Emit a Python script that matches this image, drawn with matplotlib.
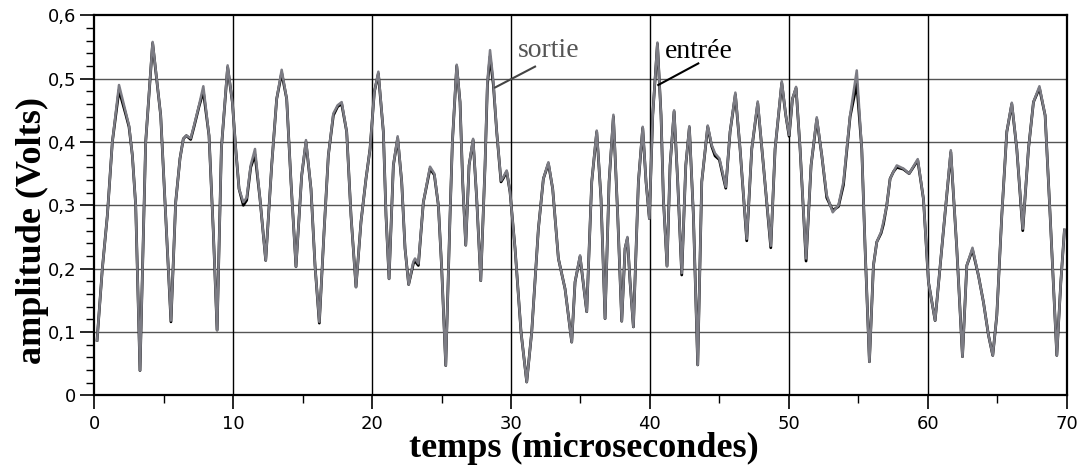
import numpy as np
import matplotlib
matplotlib.use('Agg')
import matplotlib.pyplot as plt
from matplotlib.ticker import MultipleLocator, FixedLocator

# --- Données ---
temps = [0.2, 0.58, 0.94, 1.3, 1.78, 2.26, 2.5, 2.74, 2.98, 3.29,
         3.7, 4.2, 4.78, 5.14, 5.52, 5.86, 6.17, 6.41, 6.63, 6.94,
         7.18, 7.54, 7.85, 8.26, 8.57, 8.84, 9.15, 9.6, 9.94, 10.18,
         10.42, 10.73, 10.97, 11.26, 11.57, 11.93, 12.34, 12.77, 13.13, 13.49,
         13.85, 14.16, 14.52, 14.93, 15.24, 15.6, 15.89, 16.2, 16.54, 16.85,
         17.21, 17.52, 17.81, 18.17, 18.48, 18.84, 19.2, 19.56, 19.85, 20.16,
         20.45, 20.81, 21.0, 21.22, 21.53, 21.84, 22.13, 22.37, 22.63, 22.97,
         23.09, 23.33, 23.69, 24.17, 24.48, 24.77, 25.01, 25.3, 25.61, 25.78,
         26.09, 26.33, 26.52, 26.74, 26.98, 27.27, 27.53, 27.82, 28.13, 28.3,
         28.49, 28.73, 28.97, 29.28, 29.45, 29.69, 29.93, 30.29, 30.72, 31.13,
         31.49, 31.97, 32.33, 32.69, 33.0, 33.41, 33.89, 34.37, 34.61, 34.97,
         35.45, 35.81, 36.17, 36.48, 36.77, 37.06, 37.37, 37.68, 37.97, 38.21,
         38.38, 38.57, 38.81, 39.17, 39.48, 39.72, 39.96, 40.2, 40.54, 40.8,
         40.97, 41.23, 41.45, 41.74, 42.0, 42.29, 42.58, 42.84, 43.13, 43.44,
         43.73, 44.16, 44.45, 44.69, 45.0, 45.22, 45.46, 45.77, 46.15, 46.49,
         46.97, 47.33, 47.76, 48.17, 48.7, 49.01, 49.49, 49.78, 50.02, 50.26,
         50.52, 50.81, 51.24, 51.6, 52.01, 52.37, 52.73, 53.16, 53.57, 53.93,
         54.41, 54.89, 55.25, 55.49, 55.8, 56.09, 56.33, 56.64, 56.81, 57.05,
         57.29, 57.53, 57.77, 58.25, 58.66, 59.28, 59.69, 60.05, 60.53, 61.01,
         61.66, 62.09, 62.5, 62.81, 63.22, 63.65, 64.01, 64.37, 64.68, 64.97,
         65.33, 65.69, 66.05, 66.41, 66.84, 67.25, 67.61, 68.04, 68.45, 68.81,
         69.29, 69.58, 69.84]

sortie = [0.087, 0.2, 0.284, 0.4, 0.49, 0.447, 0.426, 0.379, 0.3, 0.039,
          0.4, 0.558, 0.442, 0.284, 0.118, 0.305, 0.374, 0.405, 0.41, 0.406,
          0.426, 0.458, 0.488, 0.41, 0.258, 0.103, 0.39, 0.521, 0.463, 0.39,
          0.326, 0.305, 0.312, 0.363, 0.389, 0.31, 0.213, 0.363, 0.468, 0.514,
          0.468, 0.337, 0.203, 0.347, 0.403, 0.326, 0.205, 0.116, 0.258, 0.379,
          0.445, 0.458, 0.463, 0.416, 0.284, 0.171, 0.274, 0.342, 0.389, 0.479,
          0.511, 0.416, 0.284, 0.184, 0.363, 0.409, 0.337, 0.232, 0.175, 0.211,
          0.216, 0.208, 0.305, 0.361, 0.35, 0.3, 0.2, 0.047, 0.284, 0.4,
          0.522, 0.463, 0.337, 0.237, 0.363, 0.405, 0.31, 0.181, 0.363, 0.495,
          0.545, 0.495, 0.416, 0.339, 0.345, 0.355, 0.321, 0.232, 0.1, 0.021,
          0.1, 0.263, 0.342, 0.368, 0.326, 0.216, 0.168, 0.084, 0.179, 0.221,
          0.132, 0.337, 0.418, 0.31, 0.121, 0.337, 0.443, 0.284, 0.117, 0.232,
          0.25, 0.179, 0.108, 0.337, 0.424, 0.337, 0.279, 0.442, 0.557, 0.442,
          0.31, 0.204, 0.363, 0.45, 0.337, 0.193, 0.363, 0.425, 0.284, 0.048,
          0.337, 0.426, 0.395, 0.382, 0.374, 0.353, 0.329, 0.416, 0.478, 0.389,
          0.247, 0.389, 0.464, 0.363, 0.236, 0.389, 0.496, 0.442, 0.411, 0.468,
          0.487, 0.389, 0.216, 0.363, 0.439, 0.379, 0.316, 0.289, 0.3, 0.337,
          0.442, 0.513, 0.389, 0.232, 0.053, 0.205, 0.242, 0.258, 0.274, 0.3,
          0.342, 0.353, 0.363, 0.358, 0.35, 0.373, 0.31, 0.179, 0.118, 0.232,
          0.387, 0.232, 0.061, 0.205, 0.233, 0.189, 0.147, 0.095, 0.063, 0.126,
          0.284, 0.416, 0.462, 0.389, 0.263, 0.389, 0.463, 0.488, 0.442, 0.284,
          0.063, 0.179, 0.261]

entree = [0.087, 0.2, 0.284, 0.4, 0.482, 0.444, 0.424, 0.379, 0.3, 0.039,
          0.4, 0.556, 0.442, 0.284, 0.116, 0.305, 0.374, 0.405, 0.41, 0.404,
          0.424, 0.456, 0.48, 0.41, 0.258, 0.103, 0.39, 0.518, 0.463, 0.39,
          0.326, 0.3, 0.308, 0.36, 0.38, 0.31, 0.213, 0.363, 0.468, 0.509,
          0.468, 0.337, 0.203, 0.347, 0.4, 0.326, 0.205, 0.114, 0.258, 0.379,
          0.442, 0.456, 0.46, 0.416, 0.284, 0.171, 0.274, 0.342, 0.389, 0.479,
          0.508, 0.416, 0.284, 0.184, 0.363, 0.406, 0.337, 0.232, 0.175, 0.208,
          0.212, 0.205, 0.305, 0.358, 0.348, 0.3, 0.2, 0.047, 0.284, 0.4,
          0.52, 0.463, 0.337, 0.237, 0.363, 0.403, 0.31, 0.181, 0.363, 0.49,
          0.535, 0.49, 0.416, 0.337, 0.343, 0.353, 0.321, 0.232, 0.1, 0.021,
          0.1, 0.263, 0.342, 0.366, 0.326, 0.216, 0.168, 0.084, 0.179, 0.219,
          0.132, 0.337, 0.416, 0.31, 0.121, 0.337, 0.44, 0.284, 0.117, 0.232,
          0.248, 0.179, 0.108, 0.337, 0.422, 0.337, 0.279, 0.442, 0.555, 0.442,
          0.31, 0.204, 0.363, 0.448, 0.337, 0.19, 0.363, 0.423, 0.284, 0.048,
          0.337, 0.424, 0.393, 0.378, 0.372, 0.35, 0.327, 0.416, 0.475, 0.389,
          0.244, 0.389, 0.461, 0.363, 0.233, 0.389, 0.493, 0.442, 0.409, 0.468,
          0.485, 0.389, 0.212, 0.363, 0.436, 0.379, 0.312, 0.292, 0.298, 0.332,
          0.44, 0.492, 0.389, 0.232, 0.053, 0.205, 0.242, 0.256, 0.27, 0.3,
          0.342, 0.353, 0.36, 0.357, 0.35, 0.371, 0.31, 0.179, 0.118, 0.232,
          0.384, 0.232, 0.061, 0.205, 0.23, 0.189, 0.147, 0.095, 0.063, 0.126,
          0.284, 0.416, 0.46, 0.389, 0.26, 0.389, 0.463, 0.485, 0.442, 0.284,
          0.063, 0.179, 0.261]

y_ticks = [0.0, 0.1, 0.2, 0.3, 0.4, 0.5, 0.6]
y_labels = ["0", "0,1", "0,2", "0,3", "0,4", "0,5", "0,6"]
x_ticks = [0, 10, 20, 30, 40, 50, 60, 70]

# --- Figure ---
fig = plt.figure(figsize=(10.85, 4.68), dpi=100)
ax = fig.add_axes([0.0869, 0.1553, 0.8962, 0.812])

ax.plot(temps, entree, color="black", lw=2.0, zorder=3)
ax.plot(temps, sortie, color="#7c7c84", lw=1.8, zorder=4)

ax.set_xlim(0, 70)
ax.set_ylim(0, 0.6)

# grille
for yv in y_ticks[1:-1]:
    ax.axhline(yv, color="#555555", lw=1.0, zorder=1)
for xv in x_ticks[1:-1]:
    ax.axvline(xv, color="black", lw=1.0, zorder=1)

ax.xaxis.set_major_locator(FixedLocator(x_ticks))
ax.xaxis.set_minor_locator(MultipleLocator(5))
ax.yaxis.set_major_locator(FixedLocator(y_ticks))
ax.yaxis.set_minor_locator(MultipleLocator(0.02))
ax.set_yticklabels(y_labels)

ax.tick_params(which="major", direction="out", length=10, width=1.2, labelsize=13, pad=3)
ax.tick_params(which="minor", direction="out", length=6, width=1.0)
ax.tick_params(axis="x", which="major", pad=4)
for s in ax.spines.values():
    s.set_linewidth(1.6)

ax.set_xlabel("temps (microsecondes)", family="Liberation Serif", weight="bold",
              fontsize=26, va="center")
ax.xaxis.set_label_coords(0.503, -0.139)
ax.set_ylabel("amplitude (Volts)", family="Liberation Serif", weight="bold",
              fontsize=26, va="center")
ax.yaxis.set_label_coords(-0.064, 0.435)

# annotations
ax.text(30.5, 0.534, "sortie", family="Liberation Serif", fontsize=20, color="#555555")
ax.plot([31.73, 28.85], [0.519, 0.486], color="#444444", lw=1.5, zorder=5)
ax.text(41.1, 0.533, "entrée", family="Liberation Serif", fontsize=20, color="black")
ax.plot([43.48, 40.6], [0.524, 0.49], color="black", lw=1.5, zorder=5)

plt.savefig("out.png", dpi=100)
plt.close()
